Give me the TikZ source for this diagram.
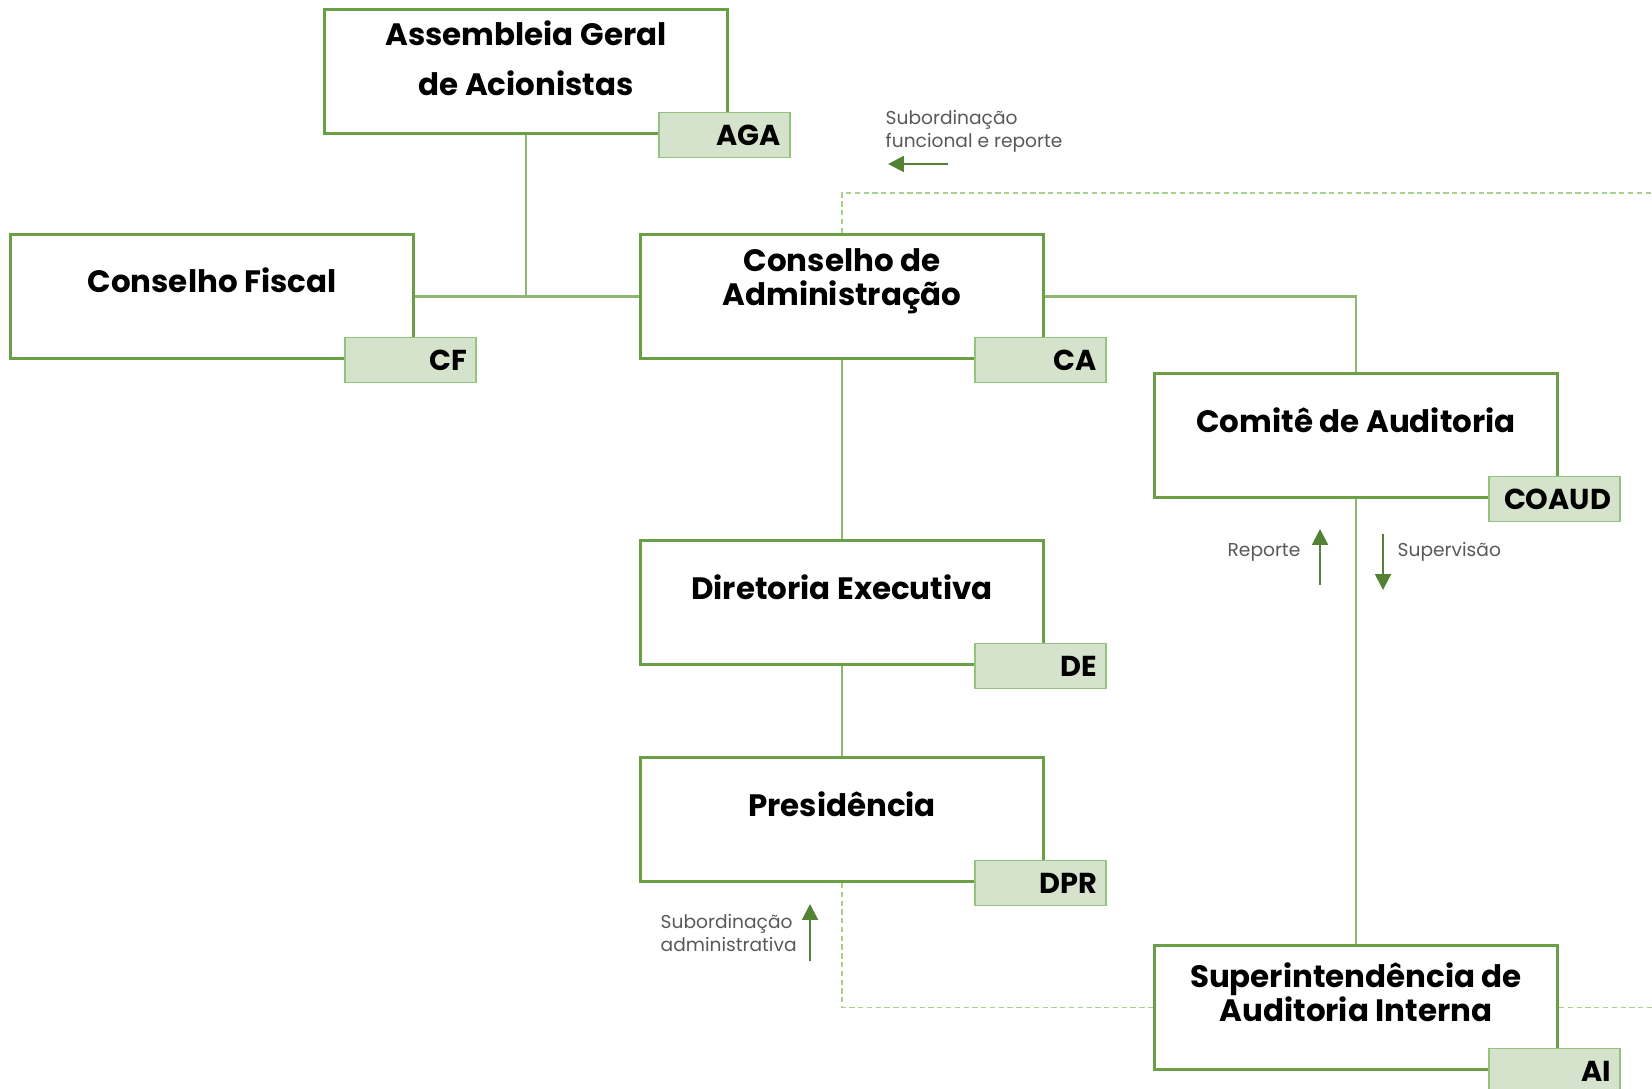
\documentclass[tikz,border=0pt]{standalone}
\usepackage{fontspec}
\setmainfont{Poppins}
\usetikzlibrary{positioning,arrows.meta}
\definecolor{boxgreen}{HTML}{6A9F45}
\definecolor{tagline}{HTML}{93C47D}
\definecolor{tagfill}{HTML}{D6E3CC}
\definecolor{linkgreen}{HTML}{8DB872}
\definecolor{dashgreen}{HTML}{A9D18E}
\definecolor{arrowgreen}{HTML}{548235}
\definecolor{notegray}{HTML}{595959}

\begin{document}
\begin{tikzpicture}[
    node distance=1.0cm and 1.0cm,
    orgbox/.style={draw=boxgreen, line width=0.85pt, fill=white, rectangle, minimum width=4.03cm, minimum height=1.24cm, inner sep=0pt},
    title/.style={align=center, inner sep=0pt, font=\bfseries\fontsize{8.8}{9.6}\selectfont},
    tag/.style={draw=tagline, fill=tagfill, line width=0.5pt, anchor=east, minimum width=1.31cm, minimum height=0.45cm, text width=1.13cm, align=right, inner xsep=0.9mm, inner ysep=0pt, font=\bfseries\fontsize{8.2}{9}\selectfont},
    link/.style={draw=linkgreen, line width=0.6pt},
    funcline/.style={draw=dashgreen, line width=0.4pt, dash pattern=on 1.5pt off 1pt},
    note/.style={text=notegray, align=left, inner sep=0pt, font=\fontsize{5.3}{6.5}\selectfont},
    arrow/.style={draw=arrowgreen, line width=0.6pt, -{Triangle[length=4.5pt,width=4.5pt]}}
]
  \useasboundingbox (0,0) rectangle (16.52,-10.89);

  % Boxes
  \node (ca) [orgbox] at (8.42,-2.965) {};
  \node (cf) [orgbox, left=2.24cm of ca] {};
  \node (aga) [orgbox, above=0.98cm of ca, xshift=-3.16cm] {};
  \node (coaud) [orgbox, right=1.08cm of ca, yshift=-1.39cm] {};
  \node (de) [orgbox, below=1.79cm of ca] {};
  \node (dpr) [orgbox, below=0.9cm of de] {};
  \node (ai) [orgbox, below=4.45cm of coaud] {};

  % Titles
  \node (aga-t) [title] at ([yshift=1.3mm]aga.center) {Assembleia Geral\\[4.5pt]de Acionistas};
  \node (cf-t) [title] at ([yshift=1.6mm]cf.center) {Conselho Fiscal};
  \node (ca-t) [title] at ([yshift=1.5mm]ca.center) {Conselho de\\Administração};
  \node (coaud-t) [title] at ([yshift=1.5mm]coaud.center) {Comitê de Auditoria};
  \node (de-t) [title] at ([yshift=1.5mm]de.center) {Diretoria Executiva};
  \node (dpr-t) [title] at ([yshift=1.5mm]dpr.center) {Presidência};
  \node (ai-t) [title] at ([yshift=1.5mm]ai.center) {Superintendência de\\Auditoria Interna};

  % Lines
  \coordinate (join) at (aga.south |- cf.east);
  \draw [link] (aga.south) -- (join);
  \draw [link] (cf.east) -- (ca.west);
  \draw [link] (ca.east) -| (coaud.north);
  \draw [link] (ca.south) -- (de.north);
  \draw [link] (de.south) -- (dpr.north);
  \draw [link] (coaud.south) -- (ai.north);

  % Functional subordination
  \coordinate (edge-top) at (16.52,-1.93);
  \coordinate (edge-bot) at (edge-top |- ai.east);
  \draw [funcline] (ca.north) |- (edge-top);
  \draw [funcline] (dpr.south) |- (ai.west);
  \draw [funcline] (ai.east) -- (edge-bot);

  % Tags
  \node (aga-tag) [tag] at ([xshift=6.2mm]aga.south east) {AGA};
  \node (cf-tag) [tag] at ([xshift=6.2mm]cf.south east) {CF};
  \node (ca-tag) [tag] at ([xshift=6.2mm]ca.south east) {CA};
  \node (coaud-tag) [tag] at ([xshift=6.2mm]coaud.south east) {COAUD};
  \node (de-tag) [tag] at ([xshift=6.2mm]de.south east) {DE};
  \node (dpr-tag) [tag] at ([xshift=6.2mm]dpr.south east) {DPR};
  \node (ai-tag) [tag] at ([xshift=6.2mm]ai.south east) {AI};

  % Notes
  \node (n-func) [note, anchor=west] at (8.85,-1.31) {Subordinação\\funcional e reporte};
  \node (n-rep) [note, anchor=east] at (13.01,-5.52) {Reporte};
  \node (n-sup) [note, anchor=west] at (13.97,-5.52) {Supervisão};
  \node (n-adm) [note, anchor=west] at (6.60,-9.33) {Subordinação\\administrativa};

  \coordinate (f1) at (9.48,-1.64);
  \coordinate (f2) at (8.88,-1.64);
  \coordinate (r1) at (13.20,-5.85);
  \coordinate (r2) at (13.20,-5.29);
  \coordinate (s1) at (13.83,-5.34);
  \coordinate (s2) at (13.83,-5.90);
  \coordinate (a1) at (8.10,-9.61);
  \coordinate (a2) at (8.10,-9.04);
  \draw [arrow] (f1) -- (f2);
  \draw [arrow] (r1) -- (r2);
  \draw [arrow] (s1) -- (s2);
  \draw [arrow] (a1) -- (a2);
\end{tikzpicture}
\end{document}
